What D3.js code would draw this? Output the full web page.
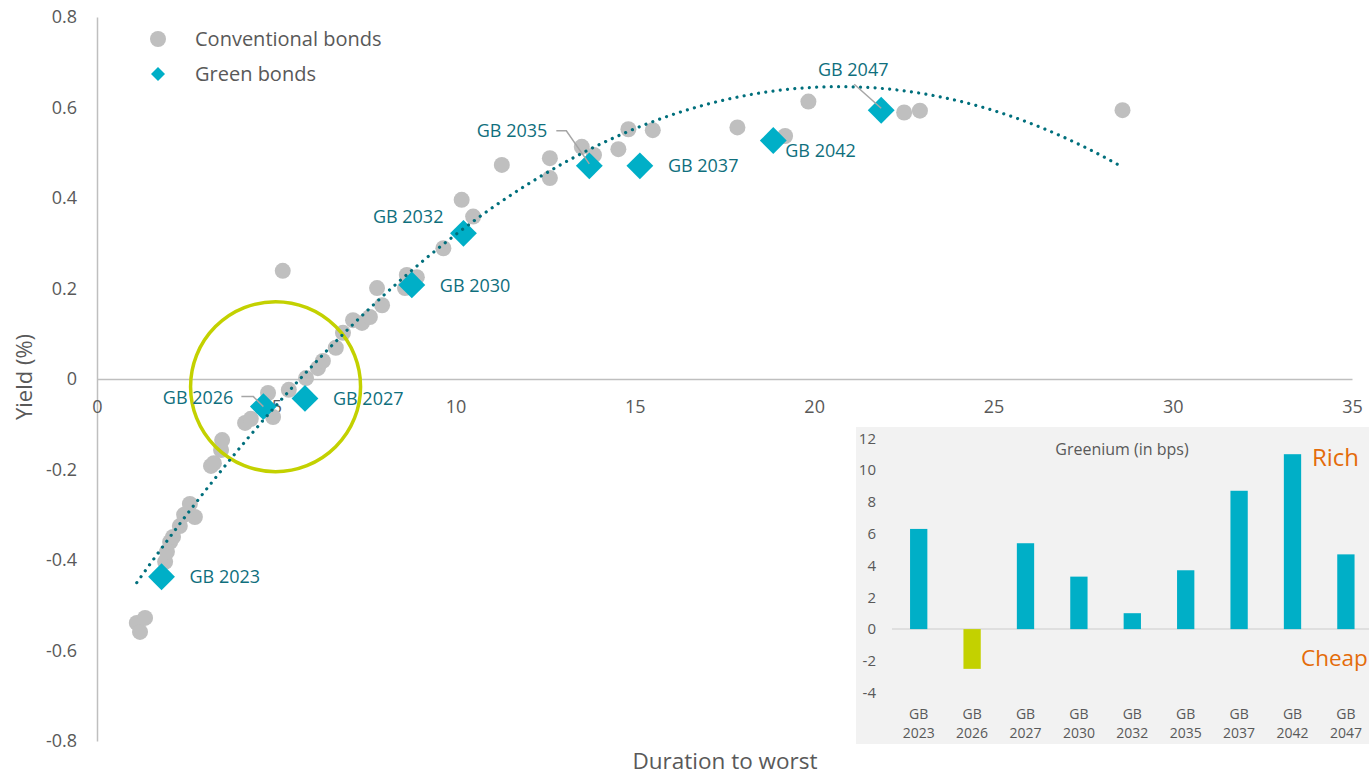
<!DOCTYPE html>
<html lang="en">
<head>
    <meta charset="UTF-8">
    <title>Green vs conventional bonds</title>
    <script src="https://d3js.org/d3.v7.min.js"></script>
    <style>
        body {
            margin: 0;
            background: #fff;
            font-family: "Open Sans", sans-serif;
        }
        svg text {
            font-family: "Open Sans", sans-serif;
        }
    </style>
</head>
<body>
    <svg width="1369" height="775"></svg>

    <script>
        // conventional bonds: duration to worst vs yield
        const convDuration = [1.11, 1.34, 1.20, 1.90, 1.95, 2.04, 2.12, 2.31, 2.43, 2.59, 2.73, 3.18, 3.26, 3.46, 3.49,
            4.13, 4.29, 4.77, 4.91, 5.18, 5.35, 5.83, 6.16, 6.30, 6.66, 6.86, 7.14, 7.39, 7.61, 7.81, 7.95, 8.59, 8.64,
            8.92, 9.66, 10.17, 10.49, 11.29, 12.63, 12.63, 13.52, 13.86, 14.54, 14.82, 15.50, 17.86, 19.19, 19.84,
            22.51, 22.95, 28.60];
        const convYield = [-0.539, -0.528, -0.559, -0.404, -0.382, -0.360, -0.349, -0.325, -0.300, -0.276, -0.305,
            -0.192, -0.186, -0.157, -0.135, -0.097, -0.088, -0.031, -0.084, 0.239, -0.024, 0.002, 0.024, 0.040, 0.069,
            0.102, 0.130, 0.124, 0.137, 0.201, 0.163, 0.201, 0.230, 0.225, 0.289, 0.396, 0.359, 0.473, 0.488, 0.444,
            0.513, 0.495, 0.508, 0.552, 0.550, 0.556, 0.537, 0.613, 0.589, 0.593, 0.594];

        // green bonds
        const greenNames = ["GB 2023", "GB 2026", "GB 2027", "GB 2030", "GB 2032", "GB 2035", "GB 2037", "GB 2042", "GB 2047"];
        const greenDuration = [1.80, 4.64, 5.80, 8.78, 10.22, 13.73, 15.14, 18.86, 21.87];
        const greenYield = [-0.437, -0.061, -0.043, 0.208, 0.322, 0.471, 0.471, 0.527, 0.594];

        // greenium per green bond, in bps
        const greenium = [6.3, -2.5, 5.4, 3.3, 1.0, 3.7, 8.7, 11.0, 4.7];

        const xTicks = [0, 5, 10, 15, 20, 25, 30, 35];
        const yTicks = [-0.8, -0.6, -0.4, -0.2, 0, 0.2, 0.4, 0.6, 0.8];
        const insetTicks = [-4, -2, 0, 2, 4, 6, 8, 10, 12];

        const teal = "#00afc7";
        const darkTeal = "#0f6f7d";
        const lime = "#c3d100";
        const grey = "#bfbfbf";
        const textGrey = "#595959";
        const orange = "#e46c0a";

        // label placement around each green bond diamond
        const labelLayout = {
            "GB 2023": { dx: 28, dy: 0, anchor: "start" },
            "GB 2026": { dx: -30, dy: -9, anchor: "end", leader: [[-22, -10], [-10, -10], [0, 0]] },
            "GB 2027": { dx: 28, dy: 0, anchor: "start" },
            "GB 2030": { dx: 28, dy: 1, anchor: "start" },
            "GB 2032": { dx: -20, dy: -17, anchor: "end" },
            "GB 2035": { dx: -42, dy: -35, anchor: "end", leader: [[-33, -35], [-23, -35], [0, -2]] },
            "GB 2037": { dx: 28, dy: 0, anchor: "start" },
            "GB 2042": { dx: 12, dy: 10, anchor: "start" },
            "GB 2047": { dx: -28, dy: -41, anchor: "middle", leader: [[-27, -26], [0, -2]] }
        };

        const svg = d3.select("svg");

        const x = d3.scaleLinear().domain([0, 35]).range([97, 1352]);
        const y = d3.scaleLinear().domain([-0.8, 0.8]).range([741, 17]);

        const conv = convDuration.map((d, i) => ({ d: d, v: convYield[i] }));
        const green = greenNames.map((n, i) => ({ name: n, d: greenDuration[i], v: greenYield[i], g: greenium[i] }));

        // axes
        const yAxis = svg.append("g")
            .attr("transform", `translate(${x(0)},0)`)
            .call(d3.axisLeft(y).tickValues(yTicks).tickSize(0).tickSizeOuter(0).tickPadding(20)
                .tickFormat(d => d === 0 ? "0" : d.toFixed(1)));
        const xAxis = svg.append("g")
            .attr("transform", `translate(0,${y(0)})`)
            .call(d3.axisBottom(x).tickValues(xTicks).tickSize(0).tickSizeOuter(0).tickPadding(21));

        [xAxis, yAxis].forEach(a => {
            a.select(".domain").attr("stroke", grey).attr("stroke-width", 1.5);
            a.selectAll("text").attr("fill", textGrey).attr("font-size", 18);
        });

        svg.append("text")
            .attr("transform", "translate(24,377) rotate(-90)")
            .attr("text-anchor", "middle")
            .attr("dy", "0.36em")
            .attr("font-size", 22)
            .attr("fill", textGrey)
            .text("Yield (%)");

        svg.append("text")
            .attr("x", 725)
            .attr("y", 761)
            .attr("text-anchor", "middle")
            .attr("dy", "0.36em")
            .attr("font-size", 22.5)
            .attr("fill", textGrey)
            .text("Duration to worst");

        // conventional bonds
        svg.append("g")
            .selectAll("circle")
            .data(conv)
            .join("circle")
            .attr("cx", d => x(d.d))
            .attr("cy", d => y(d.v))
            .attr("r", 8)
            .attr("fill", grey);

        // green bonds
        const diamond = d3.symbol().type(d3.symbolSquare).size(360);
        svg.append("g")
            .selectAll("path")
            .data(green)
            .join("path")
            .attr("d", diamond)
            .attr("transform", d => `translate(${x(d.d)},${y(d.v)}) rotate(45)`)
            .attr("fill", teal);

        // highlight ring around the short end
        svg.append("circle")
            .attr("cx", x(4.98))
            .attr("cy", y(-0.017))
            .attr("r", 85)
            .attr("fill", "none")
            .attr("stroke", lime)
            .attr("stroke-width", 3.5);

        // quadratic trend fitted to the conventional bonds
        function polyFit2(xs, ys) {
            const s = [0, 0, 0, 0, 0], t = [0, 0, 0];
            xs.forEach((xv, i) => {
                let p = 1;
                for (let k = 0; k < 5; k++) { s[k] += p; if (k < 3) t[k] += p * ys[i]; p *= xv; }
            });
            const m = [[s[0], s[1], s[2], t[0]], [s[1], s[2], s[3], t[1]], [s[2], s[3], s[4], t[2]]];
            for (let c = 0; c < 3; c++) {
                for (let r = c + 1; r < 3; r++) {
                    const f = m[r][c] / m[c][c];
                    for (let k = c; k < 4; k++) m[r][k] -= f * m[c][k];
                }
            }
            const b = [0, 0, 0];
            for (let r = 2; r >= 0; r--) {
                let acc = m[r][3];
                for (let k = r + 1; k < 3; k++) acc -= m[r][k] * b[k];
                b[r] = acc / m[r][r];
            }
            return b;
        }
        const coef = polyFit2(convDuration, convYield);
        const dMin = d3.min(convDuration), dMax = d3.max(convDuration);
        const trendPts = d3.range(0, 201).map(i => {
            const d = dMin + (dMax - dMin) * i / 200;
            return [d, coef[0] + coef[1] * d + coef[2] * d * d];
        });
        svg.append("path")
            .datum(trendPts)
            .attr("d", d3.line().x(p => x(p[0])).y(p => y(p[1])))
            .attr("fill", "none")
            .attr("stroke", "#006f7c")
            .attr("stroke-width", 3.2)
            .attr("stroke-linecap", "round")
            .attr("stroke-dasharray", "0.01 7.3");

        // labels and leader lines for the green bonds
        const labels = svg.append("g");
        green.forEach(g => {
            const L = labelLayout[g.name];
            const cx = x(g.d), cy = y(g.v);
            if (L.leader) {
                labels.append("path")
                    .attr("d", d3.line()(L.leader.map(p => [cx + p[0], cy + p[1]])))
                    .attr("fill", "none")
                    .attr("stroke", "#a6a6a6")
                    .attr("stroke-width", 1.5);
            }
            labels.append("text")
                .attr("x", cx + L.dx)
                .attr("y", cy + L.dy)
                .attr("dy", "0.36em")
                .attr("text-anchor", L.anchor)
                .attr("font-size", 18)
                .attr("fill", darkTeal)
                .text(g.name);
        });

        // legend
        const legend = svg.append("g");
        legend.append("circle").attr("cx", 158).attr("cy", 39).attr("r", 8).attr("fill", grey);
        legend.append("path")
            .attr("d", d3.symbol().type(d3.symbolSquare).size(98))
            .attr("transform", "translate(158,74) rotate(45)")
            .attr("fill", teal);
        legend.selectAll("text")
            .data([["Conventional bonds", 39], ["Green bonds", 74]])
            .join("text")
            .attr("x", 195)
            .attr("y", d => d[1])
            .attr("dy", "0.36em")
            .attr("font-size", 20)
            .attr("fill", textGrey)
            .text(d => d[0]);

        // inset: greenium bar chart
        const inset = svg.append("g");
        inset.append("rect")
            .attr("x", 856).attr("y", 427)
            .attr("width", 520).attr("height", 317)
            .attr("fill", "#f2f2f2");

        const ix = d3.scaleBand().domain(greenNames).range([892, 1372.6]).paddingInner(0.676).paddingOuter(0.338);
        const iy = d3.scaleLinear().domain([-4, 12]).range([692.7, 438.3]);

        inset.append("g")
            .attr("transform", "translate(876,0)")
            .call(d3.axisLeft(iy).tickValues(insetTicks).tickSize(0).tickPadding(0).tickFormat(d => String(d)))
            .call(a => a.select(".domain").remove())
            .call(a => a.selectAll("text").attr("fill", textGrey).attr("font-size", 15));

        inset.append("line")
            .attr("x1", 892).attr("x2", 1369)
            .attr("y1", iy(0)).attr("y2", iy(0))
            .attr("stroke", "#d9d9d9")
            .attr("stroke-width", 1.5);

        inset.selectAll(".bar")
            .data(green)
            .join("rect")
            .attr("class", "bar")
            .attr("x", d => ix(d.name))
            .attr("width", ix.bandwidth())
            .attr("y", d => iy(Math.max(0, d.g)))
            .attr("height", d => Math.abs(iy(d.g) - iy(0)))
            .attr("fill", d => d.g < 0 ? lime : teal);

        const cat = inset.selectAll(".cat")
            .data(greenNames)
            .join("text")
            .attr("class", "cat")
            .attr("text-anchor", "middle")
            .attr("font-size", 14)
            .attr("fill", textGrey);
        cat.append("tspan").attr("x", d => ix(d) + ix.bandwidth() / 2).attr("y", 719).text(d => d.split(" ")[0]);
        cat.append("tspan").attr("x", d => ix(d) + ix.bandwidth() / 2).attr("y", 738).text(d => d.split(" ")[1]);

        inset.append("text")
            .attr("x", 1122).attr("y", 449)
            .attr("dy", "0.36em")
            .attr("text-anchor", "middle")
            .attr("font-size", 16)
            .attr("fill", textGrey)
            .text("Greenium (in bps)");

        inset.append("text")
            .attr("x", 1312).attr("y", 457)
            .attr("dy", "0.36em")
            .attr("font-size", 24)
            .attr("fill", orange)
            .text("Rich");
        inset.append("text")
            .attr("x", 1301).attr("y", 658)
            .attr("dy", "0.36em")
            .attr("font-size", 22.5)
            .attr("fill", orange)
            .text("Cheap");
    </script>
</body>
</html>
